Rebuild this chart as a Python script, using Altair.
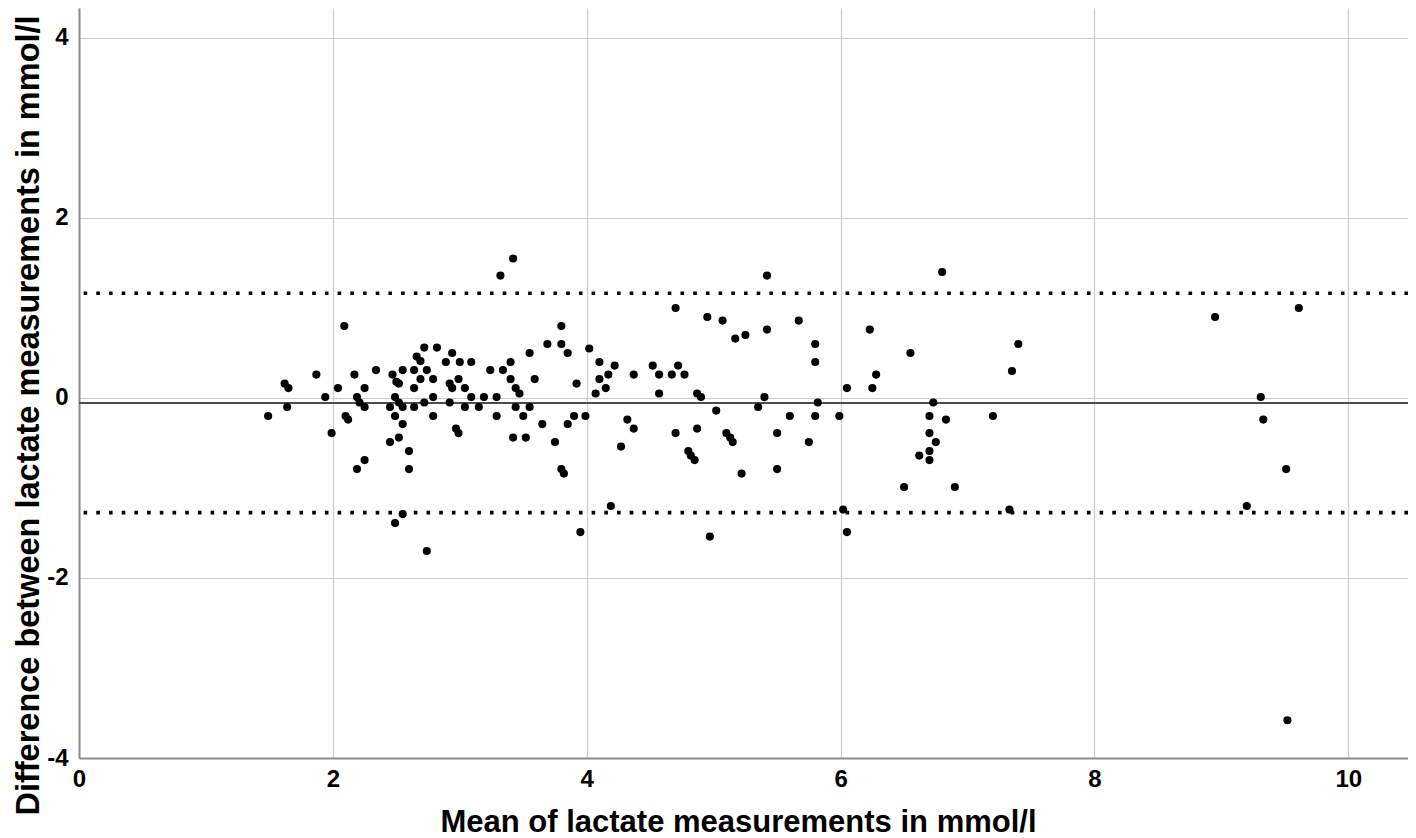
import altair as alt
import pandas as pd

# Mean of lactate measurements (mmol/l)
mean_vals = [
    1.49, 1.62, 1.65, 1.64, 1.87, 1.94, 1.99, 2.04, 2.09, 2.10, 2.12, 2.17, 2.19, 2.21, 2.25,
    2.25, 2.19, 2.25, 2.34, 2.45, 2.45, 2.47, 2.50, 2.52, 2.49, 2.52, 2.55, 2.49, 2.52, 2.55,
    2.55, 2.49, 2.55, 2.60, 2.60, 2.64, 2.64, 2.64, 2.66, 2.69, 2.69, 2.72, 2.72, 2.74, 2.74,
    2.79, 2.79, 2.79, 2.82, 2.89, 2.92, 2.94, 2.92, 2.94, 2.97, 2.99, 2.99, 3.00, 3.04, 3.04,
    3.09, 3.09, 3.15, 3.19, 3.24, 3.29, 3.29, 3.32, 3.34, 3.40, 3.40, 3.42, 3.42, 3.44, 3.47,
    3.44, 3.50, 3.52, 3.55, 3.55, 3.59, 3.65, 3.69,
    5.42, 4.70, 4.95, 5.07, 5.67, 3.80, 3.80, 3.85, 4.02, 5.17, 5.25, 5.42, 5.80, 5.80, 4.10,
    4.22, 4.17, 4.10, 4.15, 4.07, 3.92, 4.37, 4.52, 4.57, 4.57, 4.67, 4.72, 4.77, 4.87, 4.90,
    5.40, 5.35, 5.82, 5.02, 3.85, 3.90, 3.99, 4.32, 4.37, 3.75, 3.80, 3.82, 4.27, 4.70, 4.87,
    4.80, 4.82, 4.85, 5.10, 5.13, 5.15, 5.22, 5.50, 5.50, 5.60, 5.75, 5.80, 5.99, 4.19, 3.95,
    4.97,
    6.80, 6.23, 6.55, 7.40, 7.35, 6.28, 6.05, 6.25, 6.73, 6.70, 6.83, 7.20, 6.70, 6.75, 6.70,
    6.62, 6.70, 6.50, 6.90, 6.02, 6.05, 7.33,
    8.95, 9.61, 9.31, 9.33, 9.51, 9.20, 9.52,
]

# Difference between lactate measurements (mmol/l)
diff_vals = [
    -0.20, 0.16, 0.11, -0.10, 0.26, 0.01, -0.39, 0.11, 0.80, -0.20, -0.24, 0.26, 0.01, -0.05, -0.10,
    0.11, -0.79, -0.69, 0.31, -0.10, -0.49, 0.26, 0.18, 0.16, 0.01, -0.05, -0.10, -0.20, -0.44, -0.29,
    0.31, -1.39, -1.29, -0.59, -0.79, 0.31, 0.11, -0.10, 0.46, 0.41, 0.21, 0.56, -0.05, 0.31, -1.70,
    0.21, 0.01, -0.20, 0.56, 0.40, 0.16, 0.11, -0.05, 0.50, -0.34, -0.39, 0.21, 0.40, 0.11, -0.10,
    0.40, 0.01, -0.10, 0.01, 0.31, 0.01, -0.20, 1.36, 0.31, 0.40, 0.21, 1.55, -0.44, 0.11, 0.05,
    -0.10, -0.20, -0.44, 0.50, -0.10, 0.21, -0.29, 0.60,
    1.36, 1.00, 0.90, 0.86, 0.86, 0.80, 0.60, 0.50, 0.55, 0.66, 0.70, 0.76, 0.60, 0.40, 0.40,
    0.36, 0.26, 0.21, 0.11, 0.05, 0.16, 0.26, 0.36, 0.26, 0.05, 0.26, 0.36, 0.26, 0.05, 0.01,
    0.01, -0.10, -0.05, -0.14, -0.29, -0.20, -0.20, -0.24, -0.34, -0.49, -0.79, -0.84, -0.54, -0.39, -0.34,
    -0.59, -0.64, -0.69, -0.39, -0.44, -0.49, -0.84, -0.39, -0.79, -0.20, -0.49, -0.20, -0.20, -1.20, -1.49,
    -1.54,
    1.40, 0.76, 0.50, 0.60, 0.30, 0.26, 0.11, 0.11, -0.05, -0.20, -0.24, -0.20, -0.39, -0.49, -0.59,
    -0.64, -0.69, -0.99, -0.99, -1.24, -1.49, -1.24,
    0.90, 1.00, 0.01, -0.24, -0.79, -1.20, -3.58,
]

bias = -0.056
lower_loa = -1.274
upper_loa = 1.163

x_ticks = [0, 2, 4, 6, 8, 10]
y_ticks = [-4, -2, 0, 2, 4]

df = pd.DataFrame({"mean": mean_vals, "diff": diff_vals})
bias_df = pd.DataFrame({"y": [bias]})
loa_df = pd.DataFrame({"y": [lower_loa, upper_loa]})

FONT = "Liberation Sans"
LABEL_EXPR = "datum.value < 0 ? '-' + abs(datum.value) : '' + datum.value"

x_scale = alt.Scale(domain=[0, 10.47], nice=False, zero=False)
y_scale = alt.Scale(domain=[-4, 4.333], nice=False, zero=False)

x_axis = alt.Axis(
    values=x_ticks, title="Mean of lactate measurements in mmol/l", labelExpr=LABEL_EXPR,
    grid=True, gridColor="#cccccc", gridWidth=1.2, ticks=False,
    domainColor="#8a8a8a", domainWidth=2, labelFlush=False,
    labelFont=FONT, labelFontSize=24, labelFontWeight="bold", labelColor="black",
    labelPadding=9,
    titleFont=FONT, titleFontSize=31, titleFontWeight="bold", titleColor="black",
    titleX=659, titleY=73, titleAnchor="middle", titleAlign="center",
    titleBaseline="alphabetic",
)
y_axis = alt.Axis(
    values=y_ticks, title="Difference between lactate measurements in mmol/l", labelExpr=LABEL_EXPR,
    grid=True, gridColor="#cccccc", gridWidth=1.2, ticks=False,
    domainColor="#8a8a8a", domainWidth=2, labelFlush=False,
    labelFont=FONT, labelFontSize=24, labelFontWeight="bold", labelColor="black",
    labelPadding=11,
    titleFont=FONT, titleFontSize=32.5, titleFontWeight="bold", titleColor="black",
    titleX=-41, titleY=407, titleAlign="center", titleAngle=270,
    titleBaseline="alphabetic",
)

points = alt.Chart(df).mark_circle(size=66, color="black", opacity=1).encode(
    x=alt.X("mean:Q", scale=x_scale, axis=x_axis),
    y=alt.Y("diff:Q", scale=y_scale, axis=y_axis),
)

bias_rule = alt.Chart(bias_df).mark_rule(color="#4d4d4d", strokeWidth=2).encode(
    y=alt.Y("y:Q", scale=y_scale)
)

loa_rule = alt.Chart(loa_df).mark_rule(
    color="black", strokeWidth=3.6, strokeDash=[3.6, 9.1]
).encode(
    y=alt.Y("y:Q", scale=y_scale)
)

chart = alt.layer(bias_rule, loa_rule, points).properties(
    width=1329, height=750,
    autosize=alt.AutoSizeParams(type="none"),
    padding={"left": 71, "top": 0, "right": 0, "bottom": 80},
).configure_view(stroke=None)

chart.save("out.html", embed_options={"renderer": "svg", "actions": False})
